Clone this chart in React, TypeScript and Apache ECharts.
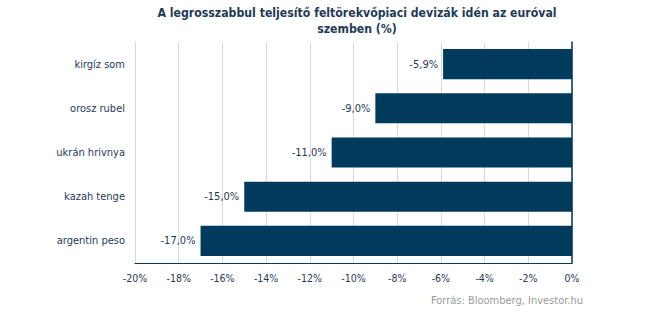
import React, { useEffect, useRef } from "react";
import * as echarts from "echarts";

const categories = ["kirgíz som", "orosz rubel", "ukrán hrivnya", "kazah tenge", "argentin peso"];
const values = [-5.9, -9.0, -11.0, -15.0, -17.0];
const titleLines = ["A legrosszabbul teljesítő feltörekvőpiaci devizák idén az euróval", "szemben (%)"];
const sourceText = "Forrás: Bloomberg, Investor.hu";

const NAVY = "#003a5c";
const TEXT = "#1f3a56";
const FONT = "'DejaVu Sans Condensed', 'DejaVu Sans', sans-serif";

export default function App() {
  const ref = useRef<HTMLDivElement>(null);
  useEffect(() => {
    if (!ref.current) return;
    const chart = echarts.init(ref.current, null, { renderer: "svg" });
    chart.setOption({
      animation: false,
      backgroundColor: "#ffffff",
      textStyle: { fontFamily: FONT },
      title: {
        text: titleLines.join("\n"),
        left: 352,
        top: 0,
        textAlign: "center",
        textStyle: { fontFamily: FONT, fontSize: 12.2, fontWeight: "bold", color: TEXT, lineHeight: 16 },
      },
      graphic: [
        {
          type: "text",
          right: 62,
          top: 295,
          style: { text: sourceText, fill: "#9a9a9a", font: `11px ${FONT}` },
        },
      ],
      grid: { left: 135, right: 73, top: 42, bottom: 59, containLabel: false },
      xAxis: {
        type: "value",
        min: -20,
        max: 0,
        interval: 2,
        axisLine: { show: true, onZero: false, lineStyle: { color: NAVY, width: 1 } },
        axisTick: { show: false },
        splitLine: { show: true, lineStyle: { color: "#d9d9d9", width: 1 } },
        axisLabel: { formatter: (v: number) => `${v}%`, color: TEXT, fontSize: 10.5, fontFamily: FONT, margin: 9 },
      },
      yAxis: [
        {
          type: "category",
          data: categories,
          inverse: true,
          position: "left",
          axisLine: { show: false },
          axisTick: { show: false },
          axisLabel: { color: TEXT, fontSize: 11, fontFamily: FONT, margin: 10 },
        },
        {
          type: "category",
          data: categories,
          inverse: true,
          position: "right",
          axisLine: { show: true, onZero: false, lineStyle: { color: NAVY, width: 1.5 } },
          axisTick: { show: false },
          axisLabel: { show: false },
        },
      ],
      series: [
        {
          type: "bar",
          data: values,
          yAxisIndex: 0,
          barWidth: "68%",
          itemStyle: { color: NAVY },
          label: {
            show: true,
            position: "left",
            distance: 5,
            color: TEXT,
            fontSize: 11,
            fontFamily: FONT,
            formatter: (p: any) => `${Number(p.value).toFixed(1).replace(".", ",")}%`,
          },
        },
      ],
    });
    return () => chart.dispose();
  }, []);
  return <div ref={ref} style={{ width: 645, height: 322, position: "absolute", left: 0, top: 0 }} />;
}
